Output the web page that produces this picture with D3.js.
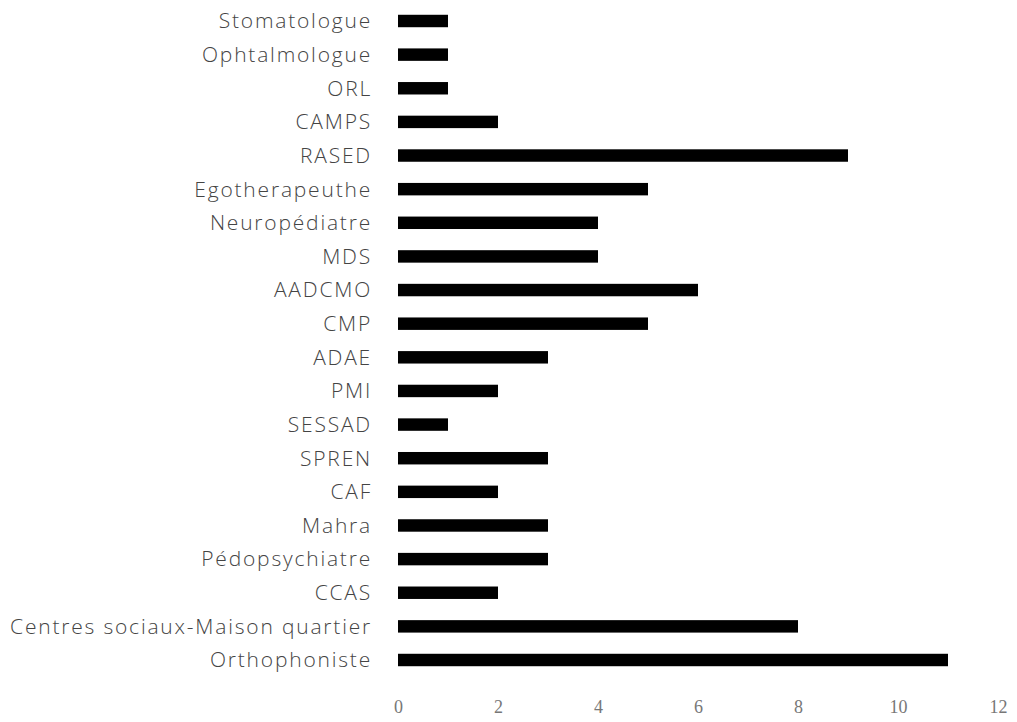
<!DOCTYPE html>
<html><head><meta charset="utf-8">
<script src="https://cdn.jsdelivr.net/npm/d3@7"></script>
<style>body{margin:0;background:#fff}</style>
</head><body>
<svg id="c" width="1017" height="722"></svg>
<script>
const categories = ["Stomatologue","Ophtalmologue","ORL","CAMPS","RASED","Egotherapeuthe","Neuropédiatre","MDS","AADCMO","CMP","ADAE","PMI","SESSAD","SPREN","CAF","Mahra","Pédopsychiatre","CCAS","Centres sociaux-Maison quartier","Orthophoniste"];
const values = [1,1,1,2,9,5,4,4,6,5,3,2,1,3,2,3,3,2,8,11];
const xTicks = [0,2,4,6,8,10,12];

const svg = d3.select("#c");
const x = d3.scaleLinear().domain([0,12]).range([398,998]);
const step = (660-21)/19;
const y = d3.scaleBand().domain(categories).range([21-step/2, 660+step/2]).paddingInner(0.63).paddingOuter(0.315);

svg.selectAll("rect.bar").data(categories).join("rect")
  .attr("class","bar")
  .attr("x", x(0))
  .attr("y", d => y(d))
  .attr("width", (d,i) => x(values[i]) - x(0))
  .attr("height", y.bandwidth())
  .attr("fill", "#000");

const yAxis = svg.append("g").attr("transform", `translate(${x(0)-26},0)`)
  .call(d3.axisLeft(y).tickSize(0).tickPadding(0));
yAxis.select(".domain").remove();
yAxis.selectAll("text").attr("font-family","Open Sans").attr("font-weight",300).attr("font-size",21)
  .attr("letter-spacing","1.8px").attr("fill","#444").attr("dy","0.35em");

const xAxis = svg.append("g").attr("transform", "translate(0,700)")
  .call(d3.axisBottom(x).tickValues(xTicks).tickSize(0).tickPadding(0));
xAxis.select(".domain").remove();
xAxis.selectAll("text").attr("font-family","Liberation Serif").attr("font-size",18).attr("fill","#777");
</script>
</body></html>
